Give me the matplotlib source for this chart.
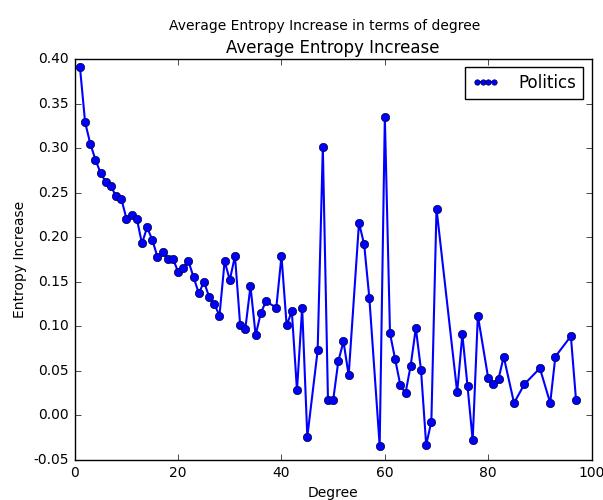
import matplotlib
matplotlib.use("Agg")
import matplotlib.pyplot as plt

plt.style.use("classic")

degree = [1, 2, 3, 4, 5, 6, 7, 8, 9, 10,
          11, 12, 13, 14, 15, 16, 17, 18, 19, 20,
          21, 22, 23, 24, 25, 26, 27, 28, 29, 30,
          31, 32, 33, 34, 35, 36, 37, 39, 40, 41,
          42, 43, 44, 45, 47, 48, 49, 50, 51, 52,
          53, 55, 56, 57, 59, 60, 61, 62, 63, 64,
          65, 66, 67, 68, 69, 70, 74, 75, 76, 77,
          78, 80, 81, 82, 83, 85, 87, 90, 92, 93,
          96, 97]

entropy_increase = [0.391, 0.329, 0.305, 0.287, 0.272, 0.262, 0.257, 0.246, 0.243, 0.221,
                    0.225, 0.221, 0.193, 0.211, 0.197, 0.178, 0.183, 0.176, 0.176, 0.161,
                    0.165, 0.173, 0.155, 0.137, 0.150, 0.133, 0.125, 0.112, 0.173, 0.152,
                    0.179, 0.102, 0.097, 0.145, 0.090, 0.115, 0.128, 0.121, 0.179, 0.101,
                    0.117, 0.028, 0.121, -0.024, 0.073, 0.301, 0.017, 0.017, 0.061, 0.083,
                    0.045, 0.216, 0.192, 0.132, -0.034, 0.335, 0.092, 0.063, 0.034, 0.025,
                    0.056, 0.098, 0.051, -0.033, -0.007, 0.232, 0.026, 0.091, 0.033, -0.028,
                    0.112, 0.042, 0.035, 0.041, 0.066, 0.014, 0.035, 0.053, 0.014, 0.066,
                    0.089, 0.017]

fig = plt.figure(figsize=(6.03, 5.0), dpi=100, facecolor="white")
ax = fig.add_axes([0.124, 0.08, 0.857, 0.802])

ax.plot(degree, entropy_increase, color="b", marker="o", linewidth=1.5,
        markersize=6, markeredgecolor="#000033", markeredgewidth=0.5,
        label="Politics")

ax.set_xlim(0, 100)
ax.set_ylim(-0.05, 0.40)
ax.set_xticks(range(0, 101, 20))
ax.set_yticks([-0.05 + 0.05 * i for i in range(10)])
ax.yaxis.set_major_formatter(matplotlib.ticker.FormatStrFormatter("%.2f"))
ax.tick_params(labelsize=10)

ax.set_xlabel("Degree", fontsize=10)
ax.set_ylabel("Entropy Increase", fontsize=10)
ax.set_title("Average Entropy Increase", fontsize=12, y=1.0, pad=4.5)
fig.suptitle("Average Entropy Increase in terms of degree", fontsize=10,
             x=0.539, y=0.962)

ax.legend(loc="upper right", numpoints=4, markerscale=0.65, fontsize=12,
          handlelength=1.6, handletextpad=1.2, borderpad=0.4)

fig.savefig("out.png", dpi=100, facecolor="white")
